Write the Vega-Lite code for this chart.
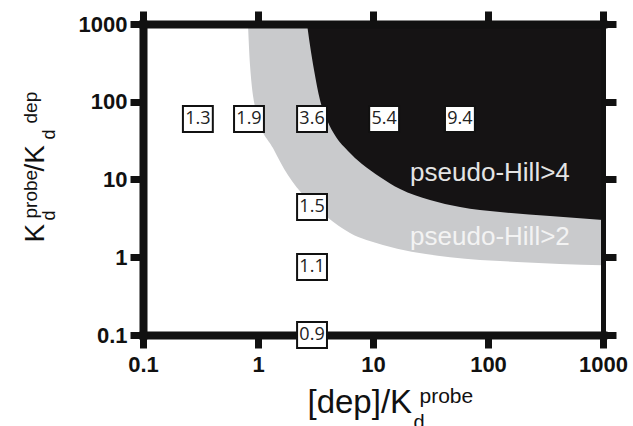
{
  "$schema": "https://vega.github.io/schema/vega-lite/v6.json",
  "width": 460,
  "height": 311,
  "autosize": {"type": "none"},
  "padding": {"left": 143, "top": 24, "right": 30, "bottom": 91},
  "background": "white",
  "config": {"view": {"stroke": null}},
  "datasets": {
    "gray": [
      {"x": 0.818, "y": 1000}, {"x": 0.852, "y": 297}, {"x": 0.98, "y": 67.6}, {"x": 1.35, "y": 25.4},
      {"x": 1.82, "y": 11.4}, {"x": 2.56, "y": 5.96}, {"x": 3.98, "y": 3.3}, {"x": 6.31, "y": 2.05},
      {"x": 12.2, "y": 1.44}, {"x": 46.8, "y": 1.0}, {"x": 179, "y": 0.87}, {"x": 1000, "y": 0.79}
    ],
    "black": [
      {"x": 2.67, "y": 1000}, {"x": 2.83, "y": 537}, {"x": 3.07, "y": 256}, {"x": 3.46, "y": 105},
      {"x": 3.98, "y": 58.2}, {"x": 4.77, "y": 35.2}, {"x": 6.06, "y": 23.3}, {"x": 8.02, "y": 15.8},
      {"x": 11.5, "y": 10.8}, {"x": 17.2, "y": 7.55}, {"x": 31.3, "y": 5.45}, {"x": 57.1, "y": 4.43},
      {"x": 127, "y": 3.82}, {"x": 346, "y": 3.39}, {"x": 1000, "y": 3.01}
    ],
    "boxes": [
      {"x": 0.3, "y": 60, "v": "1.3"}, {"x": 0.835, "y": 60, "v": "1.9"}, {"x": 2.95, "y": 60, "v": "3.6"},
      {"x": 12.5, "y": 60, "v": "5.4"}, {"x": 57, "y": 60, "v": "9.4"}, {"x": 2.95, "y": 4.43, "v": "1.5"},
      {"x": 2.95, "y": 0.75, "v": "1.1"}, {"x": 2.95, "y": 0.1, "v": "0.9"}
    ],
    "regions": [
      {"label": "pseudo-Hill>4", "x": 104, "y": 12.1},
      {"label": "pseudo-Hill>2", "x": 104, "y": 1.82}
    ]
  },
  "resolve": {"axis": {"x": "independent", "y": "independent"}},
  "layer": [
    {
      "data": {"name": "gray"},
      "mark": {"type": "area", "color": "#c9cacc", "interpolate": "monotone"},
      "encoding": {
        "x": {"field": "x", "type": "quantitative", "scale": {"type": "log", "domain": [0.1, 1000], "nice": false},
          "axis": {"orient": "bottom", "values": [0.1, 1, 10, 100, 1000], "format": "~g", "grid": false,
            "domainColor": "#111", "domainWidth": 8, "domainCap": "square", "tickColor": "#111", "tickWidth": 7, "tickSize": 13,
            "labelFont": "Liberation Sans", "labelFontWeight": "bold", "labelFontSize": 22, "labelColor": "#111", "labelPadding": 6,
            "labelFlush": false, "labelOverlap": false,
            "title": "[dep]/K", "titleFont": "Liberation Sans", "titleFontWeight": "normal", "titleFontSize": 33, "titleColor": "#111",
            "titleX": 164, "titleY": 77, "titleAlign": "left", "titleBaseline": "alphabetic", "titleAngle": 0}},
        "y": {"field": "y", "type": "quantitative", "scale": {"type": "log", "domain": [0.1, 1000], "nice": false},
          "axis": {"orient": "left", "values": [0.1, 1, 10, 100, 1000], "format": "~g", "grid": false,
            "domainColor": "#111", "domainWidth": 8, "domainCap": "square", "tickColor": "#111", "tickWidth": 7, "tickSize": 13,
            "labelFont": "Liberation Sans", "labelFontWeight": "bold", "labelFontSize": 22, "labelColor": "#111", "labelPadding": 3,
            "labelFlush": false, "labelOverlap": false,
            "title": "K", "titleFont": "Liberation Sans", "titleFontWeight": "normal", "titleFontSize": 28, "titleColor": "#111",
            "titleX": -100, "titleY": 218, "titleAlign": "left", "titleBaseline": "alphabetic", "titleAngle": -90}},
        "y2": {"datum": 1000}
      }
    },
    {
      "data": {"name": "black"},
      "mark": {"type": "area", "color": "#151314", "interpolate": "monotone"},
      "encoding": {
        "x": {"field": "x", "type": "quantitative", "scale": {"type": "log", "domain": [0.1, 1000], "nice": false},
          "axis": {"orient": "top", "values": [0.1, 1, 10, 100, 1000], "labels": false, "grid": false, "zindex": 1,
            "domainColor": "#111", "domainWidth": 8, "domainCap": "square", "tickColor": "#111", "tickWidth": 7, "tickSize": 13,
            "title": "probe", "titleFont": "Liberation Sans", "titleFontWeight": "normal", "titleFontSize": 21, "titleColor": "#111",
            "titleX": 276, "titleY": 378, "titleAlign": "left", "titleBaseline": "alphabetic", "titleAngle": 0}},
        "y": {"field": "y", "type": "quantitative", "scale": {"type": "log", "domain": [0.1, 1000], "nice": false},
          "axis": {"orient": "right", "values": [0.1, 1, 10, 100, 1000], "labels": false, "grid": false, "zindex": 1,
            "domainColor": "#111", "domainWidth": 5, "domainCap": "square", "tickColor": "#111", "tickWidth": 7, "tickSize": 13,
            "title": "d", "titleFont": "Liberation Sans", "titleFontWeight": "normal", "titleFontSize": 20, "titleColor": "#111",
            "titleX": -190, "titleY": 404, "titleAlign": "left", "titleBaseline": "alphabetic", "titleAngle": 0}},
        "y2": {"datum": 1000}
      }
    },
    {
      "data": {"name": "boxes"},
      "mark": {"type": "point", "shape": "M-1.15,-1H1.15V1H-1.15Z", "size": 676, "filled": true, "fill": "white", "stroke": "#111", "strokeWidth": 2, "opacity": 1},
      "encoding": {
        "x": {"field": "x", "type": "quantitative", "scale": {"type": "log", "domain": [0.1, 1000], "nice": false},
          "axis": {"orient": "bottom", "domain": false, "ticks": false, "labels": false, "grid": false,
            "title": "probe", "titleFont": "Liberation Sans", "titleFontWeight": "normal", "titleFontSize": 19, "titleColor": "#111",
            "titleX": -107, "titleY": -117, "titleAlign": "left", "titleBaseline": "alphabetic", "titleAngle": -90}},
        "y": {"field": "y", "type": "quantitative", "scale": {"type": "log", "domain": [0.1, 1000], "nice": false},
          "axis": {"orient": "left", "domain": false, "ticks": false, "labels": false, "grid": false,
            "title": "d", "titleFont": "Liberation Sans", "titleFontWeight": "normal", "titleFontSize": 18, "titleColor": "#111",
            "titleX": -89, "titleY": 196, "titleAlign": "left", "titleBaseline": "alphabetic", "titleAngle": -90}}
      }
    },
    {
      "data": {"name": "boxes"},
      "mark": {"type": "text", "font": "Open Sans", "fontSize": 18, "color": "#222", "align": "center", "baseline": "middle"},
      "encoding": {
        "x": {"field": "x", "type": "quantitative", "scale": {"type": "log", "domain": [0.1, 1000], "nice": false},
          "axis": {"orient": "bottom", "domain": false, "ticks": false, "labels": false, "grid": false,
            "title": "dep", "titleFont": "Liberation Sans", "titleFontWeight": "normal", "titleFontSize": 19, "titleColor": "#111",
            "titleX": -107, "titleY": -212, "titleAlign": "left", "titleBaseline": "alphabetic", "titleAngle": -90}},
        "y": {"field": "y", "type": "quantitative", "scale": {"type": "log", "domain": [0.1, 1000], "nice": false},
          "axis": {"orient": "left", "domain": false, "ticks": false, "labels": false, "grid": false,
            "title": "/K", "titleFont": "Liberation Sans", "titleFontWeight": "normal", "titleFontSize": 28, "titleColor": "#111",
            "titleX": -100, "titleY": 147, "titleAlign": "left", "titleBaseline": "alphabetic", "titleAngle": -90}},
        "text": {"field": "v"}
      }
    },
    {
      "data": {"name": "regions"},
      "mark": {"type": "text", "font": "Liberation Sans", "fontSize": 26, "align": "center", "baseline": "middle"},
      "encoding": {
        "x": {"field": "x", "type": "quantitative", "scale": {"type": "log", "domain": [0.1, 1000], "nice": false}, "axis": null},
        "y": {"field": "y", "type": "quantitative", "scale": {"type": "log", "domain": [0.1, 1000], "nice": false},
          "axis": {"orient": "left", "domain": false, "ticks": false, "labels": false, "grid": false,
            "title": "d", "titleFont": "Liberation Sans", "titleFontWeight": "normal", "titleFontSize": 18, "titleColor": "#111",
            "titleX": -89, "titleY": 115, "titleAlign": "left", "titleBaseline": "alphabetic", "titleAngle": -90}},
        "text": {"field": "label"},
        "color": {"field": "label", "type": "nominal", "scale": {"domain": ["pseudo-Hill>4", "pseudo-Hill>2"], "range": ["#e4e4e4", "#f3f3f3"]}, "legend": null}
      }
    }
  ]
}
